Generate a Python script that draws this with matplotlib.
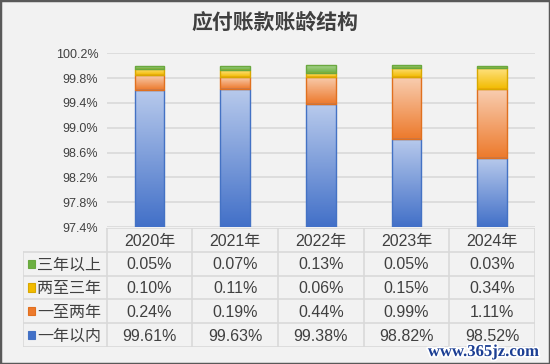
import numpy as np
import matplotlib
matplotlib.use('Agg')
import matplotlib.pyplot as plt
from matplotlib.colors import LinearSegmentedColormap
from matplotlib.patches import Rectangle
import matplotlib.patheffects as pe

plt.rcParams['font.family'] = ['Liberation Sans', 'Noto Sans CJK SC']

# data
years = ['2020年', '2021年', '2022年', '2023年', '2024年']
within_1y = [99.61, 99.63, 99.38, 98.82, 98.52]
y1_to_2 = [0.24, 0.19, 0.44, 0.99, 1.11]
y2_to_3 = [0.10, 0.11, 0.06, 0.15, 0.34]
over_3y = [0.05, 0.07, 0.13, 0.05, 0.03]
series_names = ['一年以内', '一至两年', '两至三年', '三年以上']
y_ticks = [97.4, 97.8, 98.2, 98.6, 99.0, 99.4, 99.8, 100.2]

series = [within_1y, y1_to_2, y2_to_3, over_3y]
# (top light, bottom dark, edge)
styles = [('#b8caec', '#4270c8', '#4472c4'),
          ('#f8cdb0', '#ed7a2c', '#e0701f'),
          ('#ffe385', '#f2bb00', '#d9a800'),
          ('#b2d99a', '#6cb041', '#6aa83f')]

bg = '#f2f2f2'
txt = '#404040'
grid_c = '#d9d9d9'
ymin, ymax = 97.4, 100.2

fig = plt.figure(figsize=(5.5, 3.64), dpi=100, facecolor=bg)
fig.patches.append(Rectangle((0, 0), 1, 1, transform=fig.transFigure,
                             fill=False, edgecolor='#595959', lw=2.5))
fig.text(0.5, 0.94, '应付账款账龄结构', ha='center', va='center',
         fontsize=15, fontweight='bold', color=txt, family=['Noto Sans CJK SC'])

ax = fig.add_axes([106.7 / 550, 137 / 364, 428.3 / 550, 173.7 / 364])
ax.set_facecolor(bg)
x = np.arange(len(years))
width = 0.345
bottom = np.zeros(len(years))
for vals, (light, dark, edge) in zip(series, styles):
    vals = np.array(vals)
    rects = ax.bar(x, vals, width, bottom=bottom, color='none',
                   edgecolor=edge, lw=1.0, zorder=3)
    cmap = LinearSegmentedColormap.from_list('g', [dark, light])
    grad = np.linspace(0, 1, 100).reshape(-1, 1)
    for r in rects:
        x0 = r.get_x()
        y0 = max(r.get_y(), ymin)
        y1 = r.get_y() + r.get_height()
        im = ax.imshow(grad, cmap=cmap, origin='lower', aspect='auto',
                       extent=(x0, x0 + r.get_width(), y0, y1), zorder=2)
        im.set_clip_path(r)
    bottom = bottom + vals

ax.set_xlim(-0.5, len(years) - 0.5)
ax.set_ylim(ymin, ymax)
ax.set_yticks(y_ticks)
ax.set_yticklabels([f'{t:.1f}%' for t in y_ticks], fontsize=9, color=txt)
ax.set_xticks([])
ax.tick_params(axis='y', length=0, pad=6)
ax.yaxis.grid(True, color=grid_c, lw=1.2)
ax.set_axisbelow(True)
for s in ax.spines.values():
    s.set_visible(False)

# data table
label_w = 83.9 / 85.66
tax = fig.add_axes([22.8 / 550, 17 / 364, 512.2 / 550, 119 / 364])
tax.set_xlim(-0.5 - label_w, len(years) - 0.5)
tax.set_ylim(5, 0)
tax.axis('off')
left = -0.5 - label_w
right = len(years) - 0.5
tax.plot([-0.5, right], [0, 0], color=grid_c, lw=1.2)
for i in range(1, 6):
    tax.plot([left, right], [i, i], color=grid_c, lw=1.2)
tax.plot([left, left], [1, 5], color=grid_c, lw=1.2)
for i in range(len(years) + 1):
    tax.plot([i - 0.5, i - 0.5], [0, 5], color=grid_c, lw=1.2)

for i, yr in enumerate(years):
    tax.text(i, 0.55, yr, ha='center', va='center', fontsize=11.5, color=txt)

rows = list(zip(series_names, series, styles))[::-1]
for r, (name, vals, (light, dark, edge)) in enumerate(rows, start=1):
    tax.add_patch(Rectangle((left + 0.06, r + 0.33), 0.085, 0.34,
                            facecolor=dark, edgecolor=edge, lw=0.8))
    tax.text(left + 0.17, r + 0.55, name, ha='left', va='center',
             fontsize=11.5, color=txt, family=['Noto Sans CJK SC'])
    for i, v in enumerate(vals):
        tax.text(i, r + 0.55, f'{v:.2f}%', ha='center', va='center',
                 fontsize=11.5, color=txt)

fig.text(0.98, 0.033, 'www.365jz.com', ha='right', va='center', fontsize=12,
         fontweight='bold', color='#1c3f94', family=['Liberation Serif'],
         path_effects=[pe.withStroke(linewidth=2.5, foreground='white')])

fig.savefig('out.png', dpi=100, facecolor=bg)
